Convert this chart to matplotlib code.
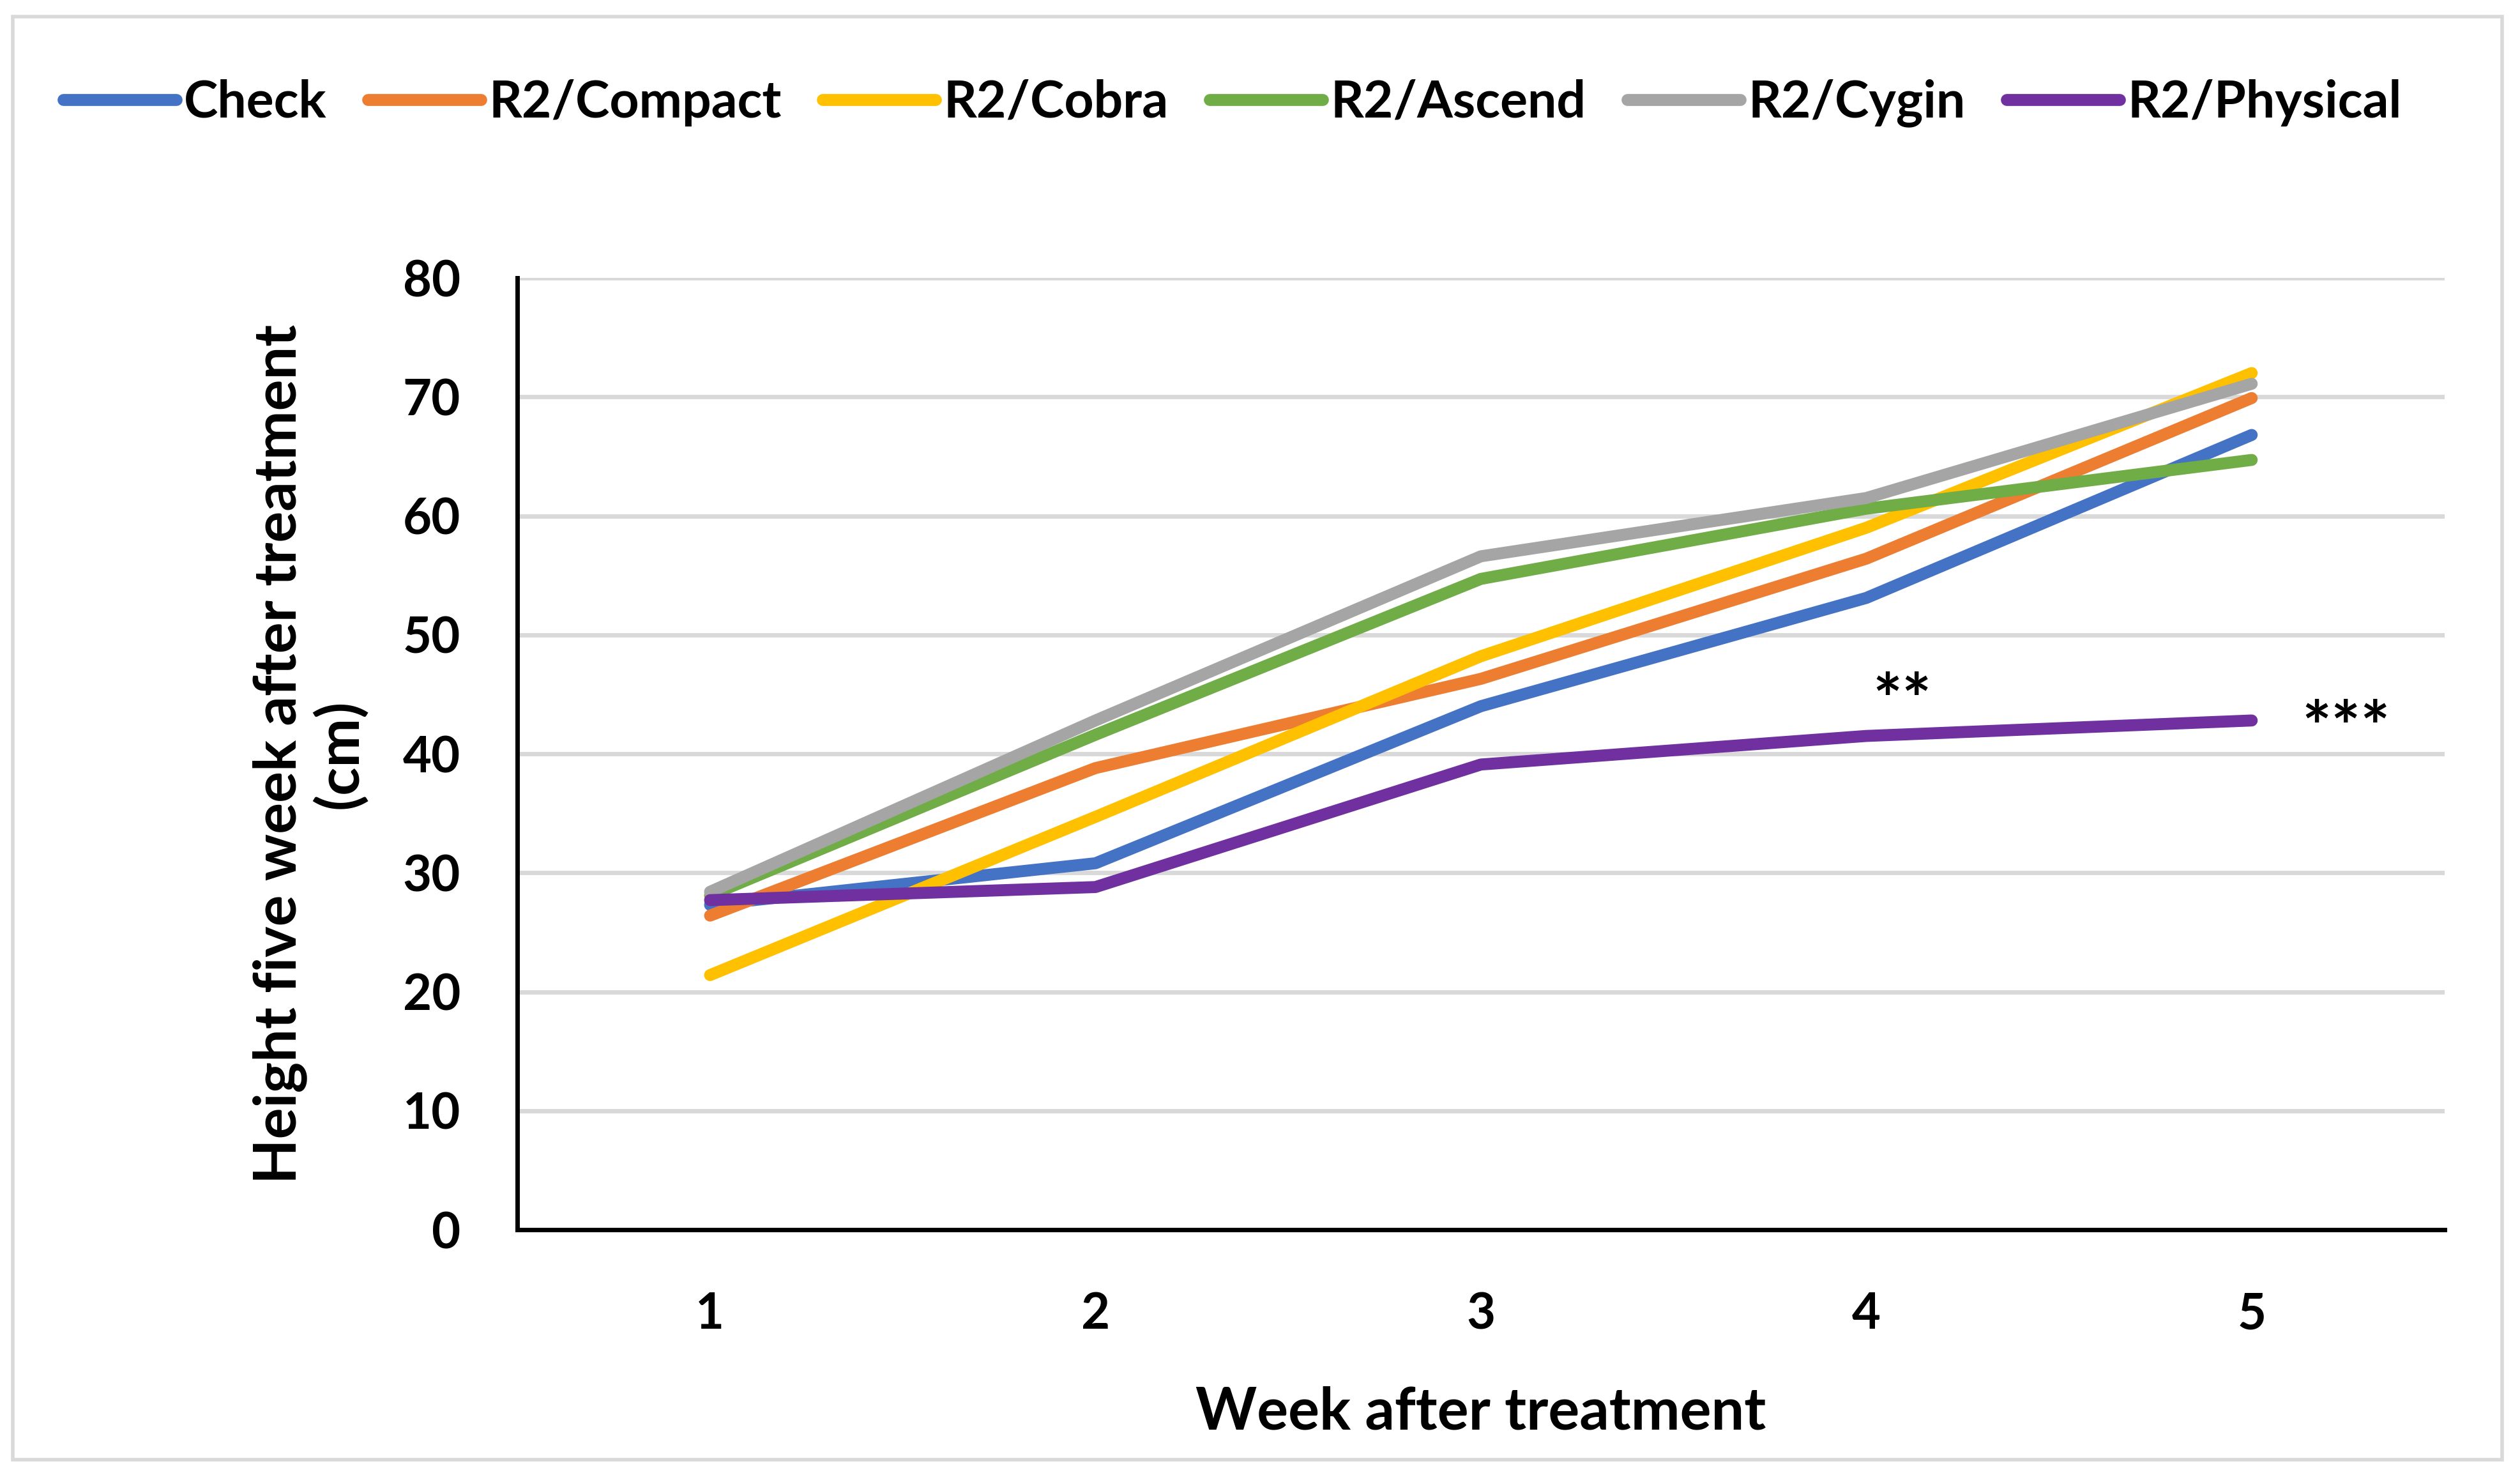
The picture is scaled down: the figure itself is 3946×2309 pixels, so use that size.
import matplotlib.pyplot as plt
from matplotlib.patches import Rectangle

plt.rcParams['font.family'] = ['Lato', 'DejaVu Sans']
plt.rcParams['font.weight'] = 'bold'
plt.rcParams['axes.labelweight'] = 'bold'

# data
weeks = [1, 2, 3, 4, 5]
check = [27.3, 30.8, 44.0, 53.1, 66.8]
compact = [26.4, 38.8, 46.3, 56.4, 69.9]
cobra = [21.4, 34.7, 48.2, 59.0, 72.0]
ascend = [28.1, 41.6, 54.7, 60.6, 64.7]
cygin = [28.4, 42.8, 56.6, 61.5, 71.1]
physical = [27.7, 28.8, 39.1, 41.5, 42.8]

names = ['Check', 'R2/Compact', 'R2/Cobra', 'R2/Ascend', 'R2/Cygin', 'R2/Physical']
series = [check, compact, cobra, ascend, cygin, physical]
colors = ['#4472C4', '#ED7D31', '#FFC000', '#70AD47', '#A5A5A5', '#7030A0']

fig = plt.figure(figsize=(39.46, 23.09), dpi=100)
ax = fig.add_axes([0.2053, 0.1663, 0.7647, 0.6453])

for name, vals, c in zip(names, series, colors):
    ax.plot(weeks, vals, color=c, linewidth=13.5, label=name, solid_capstyle='round')

# significance marks
ax.text(4.093, 42.5, '**', fontsize=78, ha='center', va='baseline')
ax.text(5.245, 40.2, '***', fontsize=78, ha='center', va='baseline')

ax.set_xlim(0.5, 5.5)
ax.set_ylim(0, 80)
ax.set_xticks(weeks)
ax.set_yticks(range(0, 81, 10))
ax.yaxis.grid(True, color='#D9D9D9', linewidth=5)
ax.set_axisbelow(True)
ax.tick_params(axis='both', length=0, labelsize=56)
ax.tick_params(axis='y', pad=64)
ax.tick_params(axis='x', pad=70)
for s in ['top', 'right']:
    ax.spines[s].set_visible(False)
ax.spines['left'].set_linewidth(5)
ax.spines['bottom'].set_linewidth(5)

ax.set_xlabel('Week after treatment', fontsize=66, labelpad=54)
ax.set_ylabel('Height five week after treatment\n(cm)', fontsize=66, labelpad=40,
              linespacing=1.1)

fig.legend(loc='center', bbox_to_anchor=(0.489, 0.930), ncol=6, frameon=False,
           fontsize=58, handlelength=2.2, handletextpad=0.15, columnspacing=0.8)

# chart area border
fig.patches.append(Rectangle((20 / 3946, 1 - 2285 / 2309), 3898 / 3946, 2259 / 2309,
                             transform=fig.transFigure, fill=False,
                             edgecolor='#D9D9D9', linewidth=4))

plt.savefig('out.png', dpi=100)
